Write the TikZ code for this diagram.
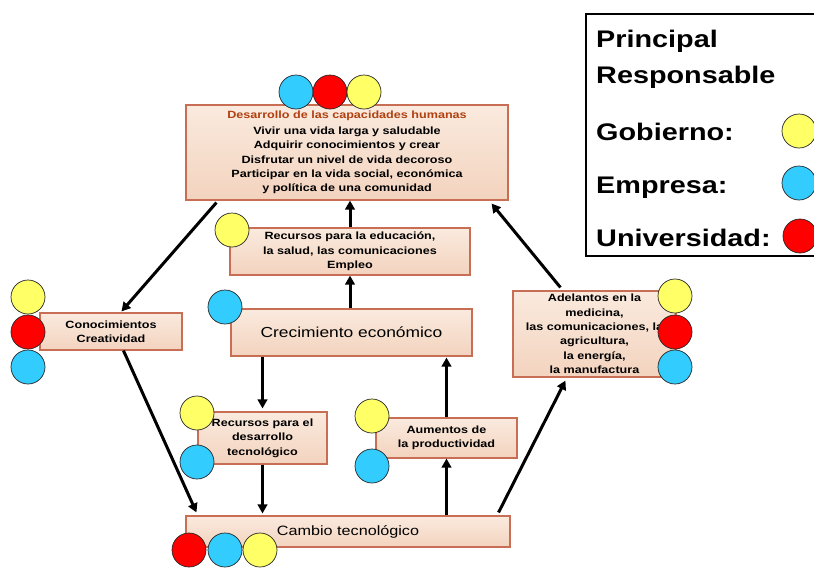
\documentclass[tikz,border=0pt]{standalone}
\usepackage{fontspec}
\setmainfont{Liberation Sans}[FakeStretch=1.2]
\usetikzlibrary{arrows.meta,calc}
\definecolor{cyel}{RGB}{255,255,102}
\definecolor{cblu}{RGB}{51,204,255}
\definecolor{cred}{RGB}{255,0,0}
\definecolor{bdr}{RGB}{200,110,85}
\definecolor{ftop}{RGB}{250,234,222}
\definecolor{fbot}{RGB}{243,211,190}
\definecolor{ttl}{RGB}{176,64,16}
\tikzset{
  box/.style={draw=bdr, line width=1.1pt, top color=ftop, bottom color=fbot, inner sep=0pt, align=center, font=\fontsize{10.5}{14.4}\selectfont\bfseries},
  circ/.style={circle, draw=black!85, line width=0.7pt, minimum size=34pt, inner sep=0pt},
  arr/.style={line width=3pt, -{Triangle[length=9pt,width=9.5pt]}},
  leg/.style={anchor=base west, inner sep=0pt, font=\fontsize{24}{28}\selectfont\bfseries}
}
\begin{document}
\begin{tikzpicture}[x=1pt,y=-1pt]
\useasboundingbox (0,0) rectangle (814,568);
\clip (0,0) rectangle (814,568);
\fill[white] (0,0) rectangle (814,568);
% legend
\draw[line width=2.4pt] (586,14) rectangle (830,256);
\node[leg] (l1) at (596,47) {Principal};
\node[leg] (l2) at (596,83) {Responsable};
\node[leg] (l3) at (596,140) {Gobierno:};
\node[leg] (l4) at (596,193) {Empresa:};
\node[leg] (l5) at (596,246) {Universidad:};
\node[circ, fill=cyel] (lc1) at (799,131) {};
\node[circ, fill=cblu] (lc2) at (799,183) {};
\node[circ, fill=cred] (lc3) at (800,236) {};
% boxes
\node[box, minimum width=322pt, minimum height=95pt] (top) at (347,152.5)
 {\textcolor{ttl}{Desarrollo de las capacidades humanas}\\[1.5pt]
  Vivir una vida larga y saludable\\ Adquirir conocimientos y crear\\
  Disfrutar un nivel de vida decoroso\\ Participar en la vida social, económica\\
  y política de una comunidad};
\node[box, minimum width=240pt, minimum height=47pt] (edu) at (350,251.5)
 {Recursos para la educación,\\ la salud, las comunicaciones\\ Empleo};
\node[box, minimum width=241pt, minimum height=47pt, font=\fontsize{14.5}{17}\selectfont] (crec) at (351.5,332.5)
 {Crecimiento económico};
\node[box, minimum width=142pt, minimum height=37pt] (conoc) at (111,331.5)
 {Conocimientos\\ Creatividad};
\node[box, minimum width=163pt, minimum height=86pt] (adel) at (594.5,334)
 {Adelantos en la\\ medicina,\\ las comunicaciones, la\\ agricultura,\\ la energía,\\ la manufactura};
\node[box, minimum width=129pt, minimum height=52pt] (recdes) at (262.5,438)
 {Recursos para el\\ desarrollo\\ tecnológico};
\node[box, minimum width=141pt, minimum height=40pt] (aumen) at (446.5,438)
 {Aumentos de\\ la productividad};
\node[box, minimum width=324pt, minimum height=31pt, font=\fontsize{13.5}{16}\selectfont] (cambio) at (348,531.5)
 {Cambio tecnológico};
% circles
\node[circ, fill=cblu] (t1) at (296,92) {};
\node[circ, fill=cred] (t2) at (330,92) {};
\node[circ, fill=cyel] (t3) at (364,92) {};
\node[circ, fill=cyel] (e1) at (232,230) {};
\node[circ, fill=cblu] (g1) at (225,307) {};
\node[circ, fill=cyel] (k1) at (28,297) {};
\node[circ, fill=cred] (k2) at (28,332) {};
\node[circ, fill=cblu] (k3) at (28,367) {};
\node[circ, fill=cyel] (a1) at (675,296) {};
\node[circ, fill=cred] (a2) at (675,332) {};
\node[circ, fill=cblu] (a3) at (675,367) {};
\node[circ, fill=cyel] (r1) at (197,413) {};
\node[circ, fill=cblu] (r2) at (197,462) {};
\node[circ, fill=cyel] (p1) at (372,416) {};
\node[circ, fill=cblu] (p2) at (372,466) {};
\node[circ, fill=cred] (b1) at (189,550) {};
\node[circ, fill=cblu] (b2) at (225,550) {};
\node[circ, fill=cyel] (b3) at (260,550) {};
% arrows
\draw[arr] ($(top.south west)+(31,2)$) -- ($(conoc.north west)+(82,-1)$);
\draw[arr] ($(conoc.south west)+(84,0)$) -- ($(cambio.north west)+(11,-3)$);
\draw[arr] (edu.north) -- (top.south -| edu.north);
\draw[arr] (crec.north -| edu.south) -- (edu.south);
\draw[arr] (crec.south -| recdes.north) -- ($(recdes.north)+(0,-3)$);
\draw[arr] (recdes.south) -- ($(cambio.north -| recdes.south)+(0,-2)$);
\draw[arr] (cambio.north -| aumen.south) -- (aumen.south);
\draw[arr] (aumen.north) -- ($(crec.south -| aumen.north)+(0,1)$);
\draw[arr] ($(cambio.north east)+(-12,-3)$) -- ($(adel.south west)+(53,3)$);
\draw[arr] ($(adel.north west)+(48,-3)$) -- ($(top.south east)+(-17,3)$);
\end{tikzpicture}
\end{document}
